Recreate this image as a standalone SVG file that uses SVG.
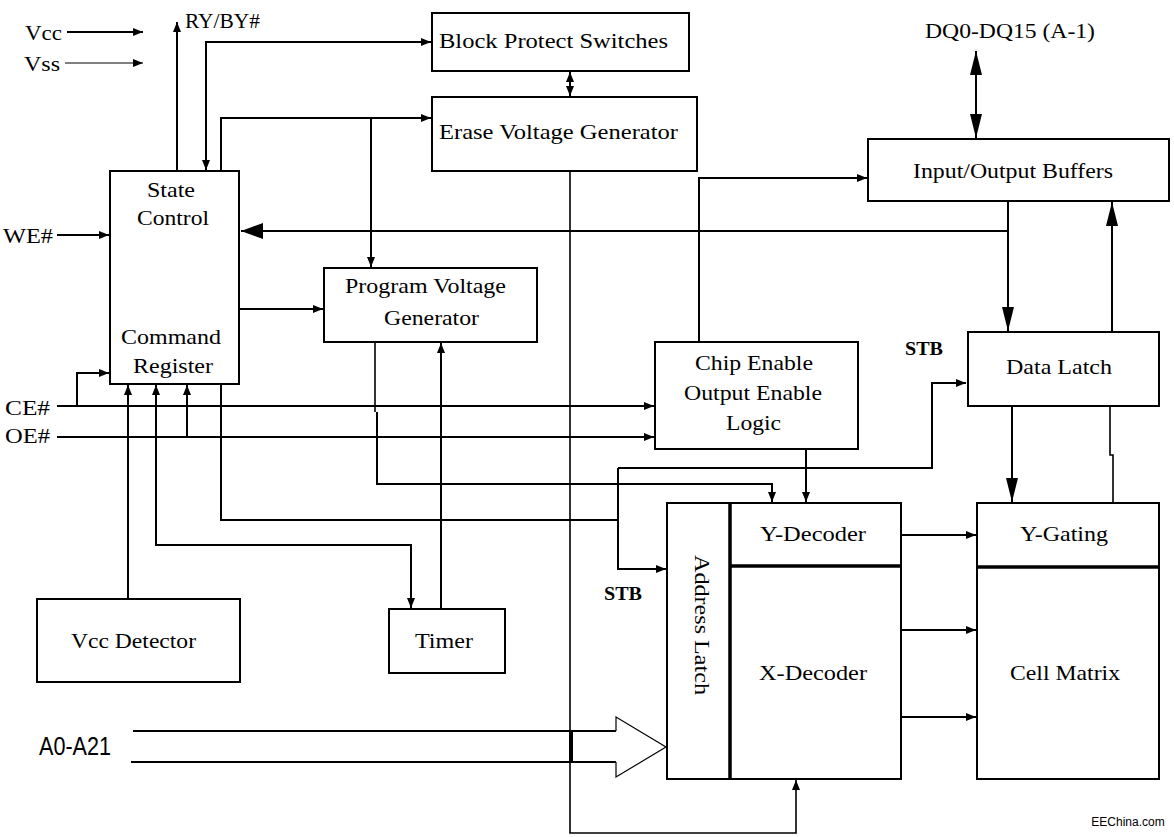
<svg xmlns="http://www.w3.org/2000/svg" width="1174" height="837" viewBox="0 0 1174 837">
<style>
text{font-family:"Liberation Serif","Times New Roman",serif;font-size:22px;fill:#000;text-anchor:middle}
.sans{font-family:"Liberation Sans",Arial,sans-serif}
.b{font-weight:bold;font-size:19px}
rect{fill:#fff;stroke:#000;stroke-width:2}
#connectors path{fill:none;stroke:#000;stroke-width:2}
#connectors path.thin{stroke-width:1.2}
#connectors path.mid{stroke-width:1.6}
.thick{stroke:#000;stroke-width:3.5;fill:none}
</style>
<defs>
<marker id="s" viewBox="0 0 10 8" refX="10" refY="4" markerWidth="10" markerHeight="8" markerUnits="userSpaceOnUse" orient="auto-start-reverse"><path d="M0,0L10,4L0,8z"/></marker>
<marker id="L" viewBox="0 0 24 12" refX="24" refY="6" markerWidth="24" markerHeight="12" markerUnits="userSpaceOnUse" orient="auto-start-reverse"><path d="M0,0L24,6L0,12z"/></marker>
<marker id="W" viewBox="0 0 22 16" refX="22" refY="8" markerWidth="22" markerHeight="16" markerUnits="userSpaceOnUse" orient="auto-start-reverse"><path d="M0,0L22,8L0,16z"/></marker>
</defs>
<rect x="0" y="0" width="1174" height="837" style="stroke:none"/>

<g id="connectors">
<path d="M67,32H143" marker-end="url(#s)"/>
<path class="thin" d="M65,63H143" marker-end="url(#s)"/>
<path d="M177,171V22" marker-end="url(#s)"/>
<path d="M206,170V42H431" marker-start="url(#s)" marker-end="url(#s)"/>
<path d="M221,171V118H431" marker-end="url(#s)"/>
<path d="M371,118V267" marker-end="url(#s)"/>
<path d="M57,235H109" marker-end="url(#s)"/>
<path d="M1008,202V331" marker-end="url(#L)"/>
<path d="M1008,231H241" marker-end="url(#W)"/>
<path d="M239,309H323" marker-end="url(#s)"/>
<path d="M570,72V96" marker-start="url(#s)" marker-end="url(#s)"/>
<path class="mid" d="M570,171V833H796V780" marker-end="url(#s)"/>
<path d="M699,342V178H867" marker-end="url(#s)"/>
<path d="M976,51V138" marker-start="url(#L)" marker-end="url(#L)"/>
<path d="M1112,332V202" marker-end="url(#L)"/>
<path d="M57,406H654" marker-end="url(#s)"/>
<path d="M77,406V373H109" marker-end="url(#s)"/>
<path d="M57,437H654" marker-end="url(#s)"/>
<path d="M187,437V385" marker-end="url(#s)"/>
<path d="M128,598V385" marker-end="url(#s)"/>
<path d="M156,385V545H411V608" marker-start="url(#s)" marker-end="url(#s)"/>
<path d="M441,609V343" marker-end="url(#s)"/>
<path class="mid" d="M375,342V412"/>
<path d="M377,412V484H772V502" marker-end="url(#s)"/>
<path d="M221,384V520H618"/>
<path d="M618,468H932V383H966" marker-end="url(#s)"/>
<path d="M618,468V569H666" marker-end="url(#s)"/>
<path d="M806,449V502" marker-end="url(#s)"/>
<path d="M902,535H976" marker-end="url(#s)"/>
<path d="M902,630H976" marker-end="url(#s)"/>
<path d="M902,717H976" marker-end="url(#s)"/>
<path d="M1012,406V502" marker-end="url(#L)"/>
<path class="mid" d="M1110,406V455H1113V502"/>
<path d="M133,731H616M131,762H616"/>
<path class="thin" d="M616,731V717L666,747L616,777V762"/>
<path d="M571,731V762" style="stroke-width:4"/>
</g>

<g id="vcc-label"><text x="43.5" y="40" textLength="37" lengthAdjust="spacingAndGlyphs">Vcc</text></g>
<g id="vss-label"><text x="42" y="71" textLength="36" lengthAdjust="spacingAndGlyphs">Vss</text></g>
<g id="ryby-label"><text x="222.5" y="28" textLength="75" lengthAdjust="spacingAndGlyphs">RY/BY#</text></g>
<g id="we-label"><text x="28" y="243" textLength="50" lengthAdjust="spacingAndGlyphs">WE#</text></g>
<g id="ce-label"><text x="27.5" y="415" textLength="45" lengthAdjust="spacingAndGlyphs">CE#</text></g>
<g id="oe-label"><text x="27.5" y="443" textLength="45" lengthAdjust="spacingAndGlyphs">OE#</text></g>
<g id="a-label"><text class="sans" x="75" y="755" style="font-size:25px" textLength="72" lengthAdjust="spacingAndGlyphs">A0-A21</text></g>
<g id="dq-label"><text x="1010" y="38" textLength="170" lengthAdjust="spacingAndGlyphs">DQ0-DQ15 (A-1)</text></g>
<g id="stb1-label"><text class="b" x="924" y="355" textLength="38" lengthAdjust="spacingAndGlyphs">STB</text></g>
<g id="stb2-label"><text class="b" x="623" y="600" textLength="38" lengthAdjust="spacingAndGlyphs">STB</text></g>

<g id="state-control">
<rect x="110" y="171" width="129" height="213"/>
<text x="171" y="197" textLength="48" lengthAdjust="spacingAndGlyphs">State</text>
<text x="173" y="225" textLength="72" lengthAdjust="spacingAndGlyphs">Control</text>
<text x="171" y="344" textLength="100" lengthAdjust="spacingAndGlyphs">Command</text>
<text x="173" y="373" textLength="80" lengthAdjust="spacingAndGlyphs">Register</text>
</g>
<g id="block-protect">
<rect x="432" y="13" width="257" height="58"/>
<text x="553.5" y="48" textLength="229" lengthAdjust="spacingAndGlyphs">Block Protect Switches</text>
</g>
<g id="erase-voltage">
<rect x="432" y="97" width="265" height="74"/>
<text x="558.5" y="139" textLength="239" lengthAdjust="spacingAndGlyphs">Erase Voltage Generator</text>
</g>
<g id="program-voltage">
<rect x="324" y="268" width="213" height="74"/>
<text x="425.5" y="293" textLength="161" lengthAdjust="spacingAndGlyphs">Program Voltage</text>
<text x="431.5" y="325" textLength="95" lengthAdjust="spacingAndGlyphs">Generator</text>
</g>
<g id="io-buffers">
<rect x="868" y="139" width="301" height="62"/>
<text x="1013" y="178" textLength="200" lengthAdjust="spacingAndGlyphs">Input/Output Buffers</text>
</g>
<g id="ce-oe-logic">
<rect x="655" y="342" width="203" height="107"/>
<text x="754" y="370" textLength="118" lengthAdjust="spacingAndGlyphs">Chip Enable</text>
<text x="753" y="400" textLength="138" lengthAdjust="spacingAndGlyphs">Output Enable</text>
<text x="753.5" y="430" textLength="55" lengthAdjust="spacingAndGlyphs">Logic</text>
</g>
<g id="data-latch">
<rect x="968" y="332" width="191" height="74"/>
<text x="1059" y="374" textLength="106" lengthAdjust="spacingAndGlyphs">Data Latch</text>
</g>
<g id="timer">
<rect x="389" y="609" width="116" height="64"/>
<text x="444" y="648" textLength="58" lengthAdjust="spacingAndGlyphs">Timer</text>
</g>
<g id="vcc-detector">
<rect x="37" y="599" width="203" height="83"/>
<text x="133.5" y="648" textLength="125" lengthAdjust="spacingAndGlyphs">Vcc Detector</text>
</g>
<g id="decoders">
<rect x="667" y="503" width="234" height="276"/>
<path class="thick" d="M730,503V779M730,566H901"/>
<text transform="translate(695,625) rotate(90)" x="0" y="0" textLength="140" lengthAdjust="spacingAndGlyphs">Address Latch</text>
<text x="813" y="541" textLength="106" lengthAdjust="spacingAndGlyphs">Y-Decoder</text>
<text x="813" y="680" textLength="108" lengthAdjust="spacingAndGlyphs">X-Decoder</text>
</g>
<g id="cell-matrix">
<rect x="977" y="503" width="182" height="276"/>
<path class="thick" d="M977,567H1159"/>
<text x="1064" y="541" textLength="88" lengthAdjust="spacingAndGlyphs">Y-Gating</text>
<text x="1065" y="680" textLength="110" lengthAdjust="spacingAndGlyphs">Cell Matrix</text>
</g>
<g id="watermark"><text class="sans" x="1128" y="826" style="font-size:12px">EEChina.com</text></g>
</svg>
